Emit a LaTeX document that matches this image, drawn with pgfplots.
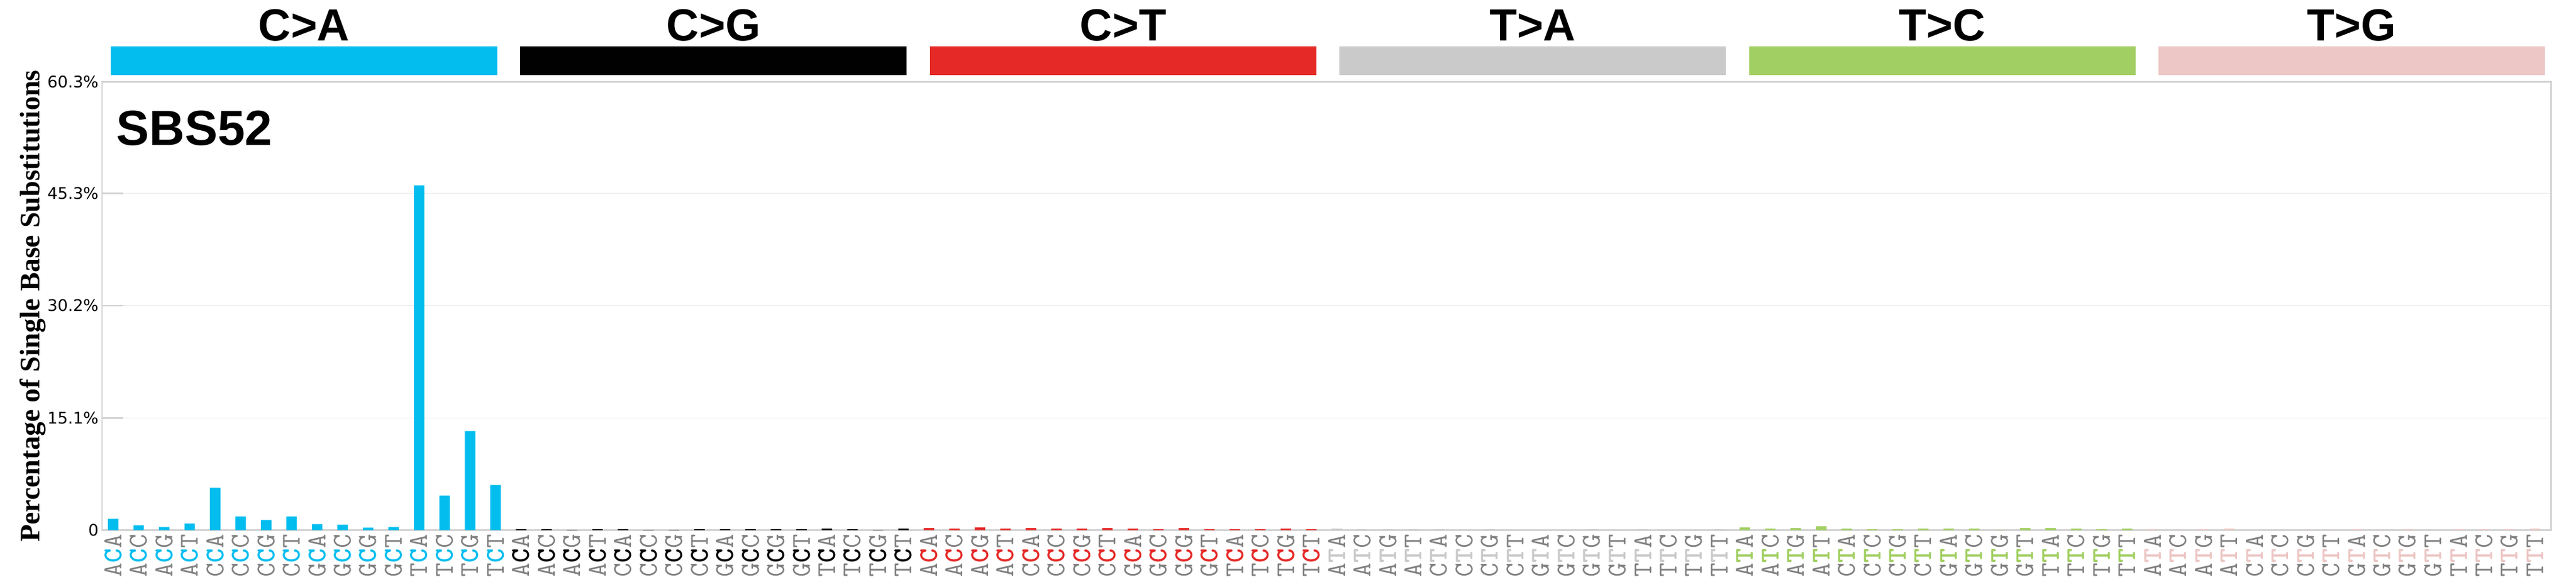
\documentclass[border=0pt]{standalone}
\usepackage{fontspec}
\usepackage{pgfplots}
\pgfplotsset{compat=1.18}
\newfontfamily\titlefont{Liberation Sans}
\newfontfamily\tickfont{DejaVu Sans}
\newfontfamily\labelfont{Liberation Serif}

\definecolor{cCA}{RGB}{3,189,239}
\definecolor{cCG}{RGB}{1,1,1}
\definecolor{cCT}{RGB}{228,41,38}
\definecolor{cTA}{RGB}{203,202,203}
\definecolor{cTC}{RGB}{162,207,99}
\definecolor{cTG}{RGB}{236,199,197}
\definecolor{flank}{RGB}{128,128,128}
\definecolor{frame}{RGB}{211,211,211}

% context label: colour, mutated base, 5' base, 3' base
\newcommand\ctx[4]{#3{\bfseries\color{#1}#2}#4}
\newcommand\mCA[2]{\ctx{cCA}{C}{#1}{#2}}
\newcommand\mCG[2]{\ctx{cCG}{C}{#1}{#2}}
\newcommand\mCT[2]{\ctx{cCT}{C}{#1}{#2}}
\newcommand\mTA[2]{\ctx{cTA}{T}{#1}{#2}}
\newcommand\mTC[2]{\ctx{cTC}{T}{#1}{#2}}
\newcommand\mTG[2]{\ctx{cTG}{T}{#1}{#2}}

\begin{document}
\begin{tikzpicture}
\useasboundingbox (0,0) rectangle (1098.25pt,248pt);
\begin{axis}[
    at={(43.5pt,22.075pt)}, anchor=south west,
    width=1044pt, height=191.05pt, scale only axis,
    xmin=-0.437, xmax=95.62, ymin=0, ymax=60.3,
    clip=false,
    axis line style={frame, line width=0.7pt},
    xtick={0,...,95},
    xticklabels={
      \mCA AA,\mCA AC,\mCA AG,\mCA AT,\mCA CA,\mCA CC,\mCA CG,\mCA CT,\mCA GA,\mCA GC,\mCA GG,\mCA GT,\mCA TA,\mCA TC,\mCA TG,\mCA TT,
      \mCG AA,\mCG AC,\mCG AG,\mCG AT,\mCG CA,\mCG CC,\mCG CG,\mCG CT,\mCG GA,\mCG GC,\mCG GG,\mCG GT,\mCG TA,\mCG TC,\mCG TG,\mCG TT,
      \mCT AA,\mCT AC,\mCT AG,\mCT AT,\mCT CA,\mCT CC,\mCT CG,\mCT CT,\mCT GA,\mCT GC,\mCT GG,\mCT GT,\mCT TA,\mCT TC,\mCT TG,\mCT TT,
      \mTA AA,\mTA AC,\mTA AG,\mTA AT,\mTA CA,\mTA CC,\mTA CG,\mTA CT,\mTA GA,\mTA GC,\mTA GG,\mTA GT,\mTA TA,\mTA TC,\mTA TG,\mTA TT,
      \mTC AA,\mTC AC,\mTC AG,\mTC AT,\mTC CA,\mTC CC,\mTC CG,\mTC CT,\mTC GA,\mTC GC,\mTC GG,\mTC GT,\mTC TA,\mTC TC,\mTC TG,\mTC TT,
      \mTG AA,\mTG AC,\mTG AG,\mTG AT,\mTG CA,\mTG CC,\mTG CG,\mTG CT,\mTG GA,\mTG GC,\mTG GG,\mTG GT,\mTG TA,\mTG TC,\mTG TG,\mTG TT},
    xtick style={draw=none},
    xticklabel style={rotate=90, anchor=east, inner xsep=1.6pt, inner ysep=0pt,
      font=\fontsize{11.6}{12}\ttfamily, text=flank},
    ytick={0,15.1,30.2,45.3,60.3},
    yticklabels={0,15.1\%,30.2\%,45.3\%,60.3\%},
    ytick pos=left, tick align=inside, major tick length=9pt,
    ytick style={frame, line width=0.7pt},
    yticklabel style={font=\fontsize{6.85}{8}\tickfont, anchor=east, inner sep=0pt, xshift=-1.3pt},
    ymajorgrids, grid style={black!8, line width=0.25pt},
]
% C>A
\addplot[ybar, bar width=0.41, bar shift=0pt, fill=cCA, draw=none] coordinates {
  (0,1.52) (1,0.65) (2,0.42) (3,0.89) (4,5.70) (5,1.84) (6,1.36) (7,1.84)
  (8,0.81) (9,0.73) (10,0.34) (11,0.42) (12,46.38) (13,4.67) (14,13.34) (15,6.09)};
% C>G
\addplot[ybar, bar width=0.41, bar shift=0pt, fill=cCG, draw=none] coordinates {
  (16,0.13) (17,0.13) (18,0.05) (19,0.13) (20,0.13) (21,0.05) (22,0.05) (23,0.13)
  (24,0.13) (25,0.13) (26,0.13) (27,0.13) (28,0.21) (29,0.13) (30,0.05) (31,0.21)};
% C>T
\addplot[ybar, bar width=0.41, bar shift=0pt, fill=cCT, draw=none] coordinates {
  (32,0.29) (33,0.21) (34,0.37) (35,0.21) (36,0.29) (37,0.21) (38,0.21) (39,0.29)
  (40,0.21) (41,0.13) (42,0.29) (43,0.13) (44,0.13) (45,0.13) (46,0.21) (47,0.13)};
% T>A
\addplot[ybar, bar width=0.41, bar shift=0pt, fill=cTA, draw=none] coordinates {
  (48,0.21) (49,0.13) (50,0.13) (51,0.13) (52,0.13) (53,0.05) (54,0.13) (55,0.05)
  (56,0.05) (57,0.05) (58,0.13) (59,0.05) (60,0.13) (61,0.05) (62,0.05) (63,0.13)};
% T>C
\addplot[ybar, bar width=0.41, bar shift=0pt, fill=cTC, draw=none] coordinates {
  (64,0.37) (65,0.21) (66,0.29) (67,0.53) (68,0.21) (69,0.13) (70,0.13) (71,0.21)
  (72,0.21) (73,0.21) (74,0.05) (75,0.29) (76,0.29) (77,0.21) (78,0.13) (79,0.21)};
% T>G
\addplot[ybar, bar width=0.41, bar shift=0pt, fill=cTG, draw=none] coordinates {
  (80,0.13) (81,0.05) (82,0.13) (83,0.21) (84,0.05) (85,0.05) (86,0.05) (87,0.05)
  (88,0.13) (89,0.05) (90,0.13) (91,0.05) (92,0.13) (93,0.13) (94,0.13) (95,0.21)};

% category strips above the axis
\fill[cCA] ([yshift=2.8pt]axis cs:-0.092,60.3) rectangle ([yshift=15.1pt]axis cs:15.068,60.3);
\fill[cCG] ([yshift=2.8pt]axis cs:15.972,60.3) rectangle ([yshift=15.1pt]axis cs:31.132,60.3);
\fill[cCT] ([yshift=2.8pt]axis cs:32.036,60.3) rectangle ([yshift=15.1pt]axis cs:47.196,60.3);
\fill[cTA] ([yshift=2.8pt]axis cs:48.100,60.3) rectangle ([yshift=15.1pt]axis cs:63.260,60.3);
\fill[cTC] ([yshift=2.8pt]axis cs:64.164,60.3) rectangle ([yshift=15.1pt]axis cs:79.324,60.3);
\fill[cTG] ([yshift=2.8pt]axis cs:80.228,60.3) rectangle ([yshift=15.1pt]axis cs:95.388,60.3);
\begin{scope}[every node/.style={anchor=base, font=\fontsize{19.2}{20}\titlefont\bfseries}]
\node at ([yshift=17.5pt]axis cs:7.488,60.3) {C>A};
\node at ([yshift=17.5pt]axis cs:23.552,60.3) {C>G};
\node at ([yshift=17.5pt]axis cs:39.616,60.3) {C>T};
\node at ([yshift=17.5pt]axis cs:55.680,60.3) {T>A};
\node at ([yshift=17.5pt]axis cs:71.744,60.3) {T>C};
\node at ([yshift=17.5pt]axis cs:87.808,60.3) {T>G};
\end{scope}

\node[anchor=base west, inner sep=0pt, font=\fontsize{21}{24}\titlefont\bfseries]
  at ([xshift=5.9pt, yshift=-27.1pt]rel axis cs:0,1) {SBS52};
\node[rotate=90, anchor=base, inner sep=0pt, font=\fontsize{12}{14}\labelfont\bfseries]
  at ([xshift=-26.75pt]rel axis cs:0,0.5) {Percentage of Single Base Substitutions};
\end{axis}
\end{tikzpicture}
\end{document}
